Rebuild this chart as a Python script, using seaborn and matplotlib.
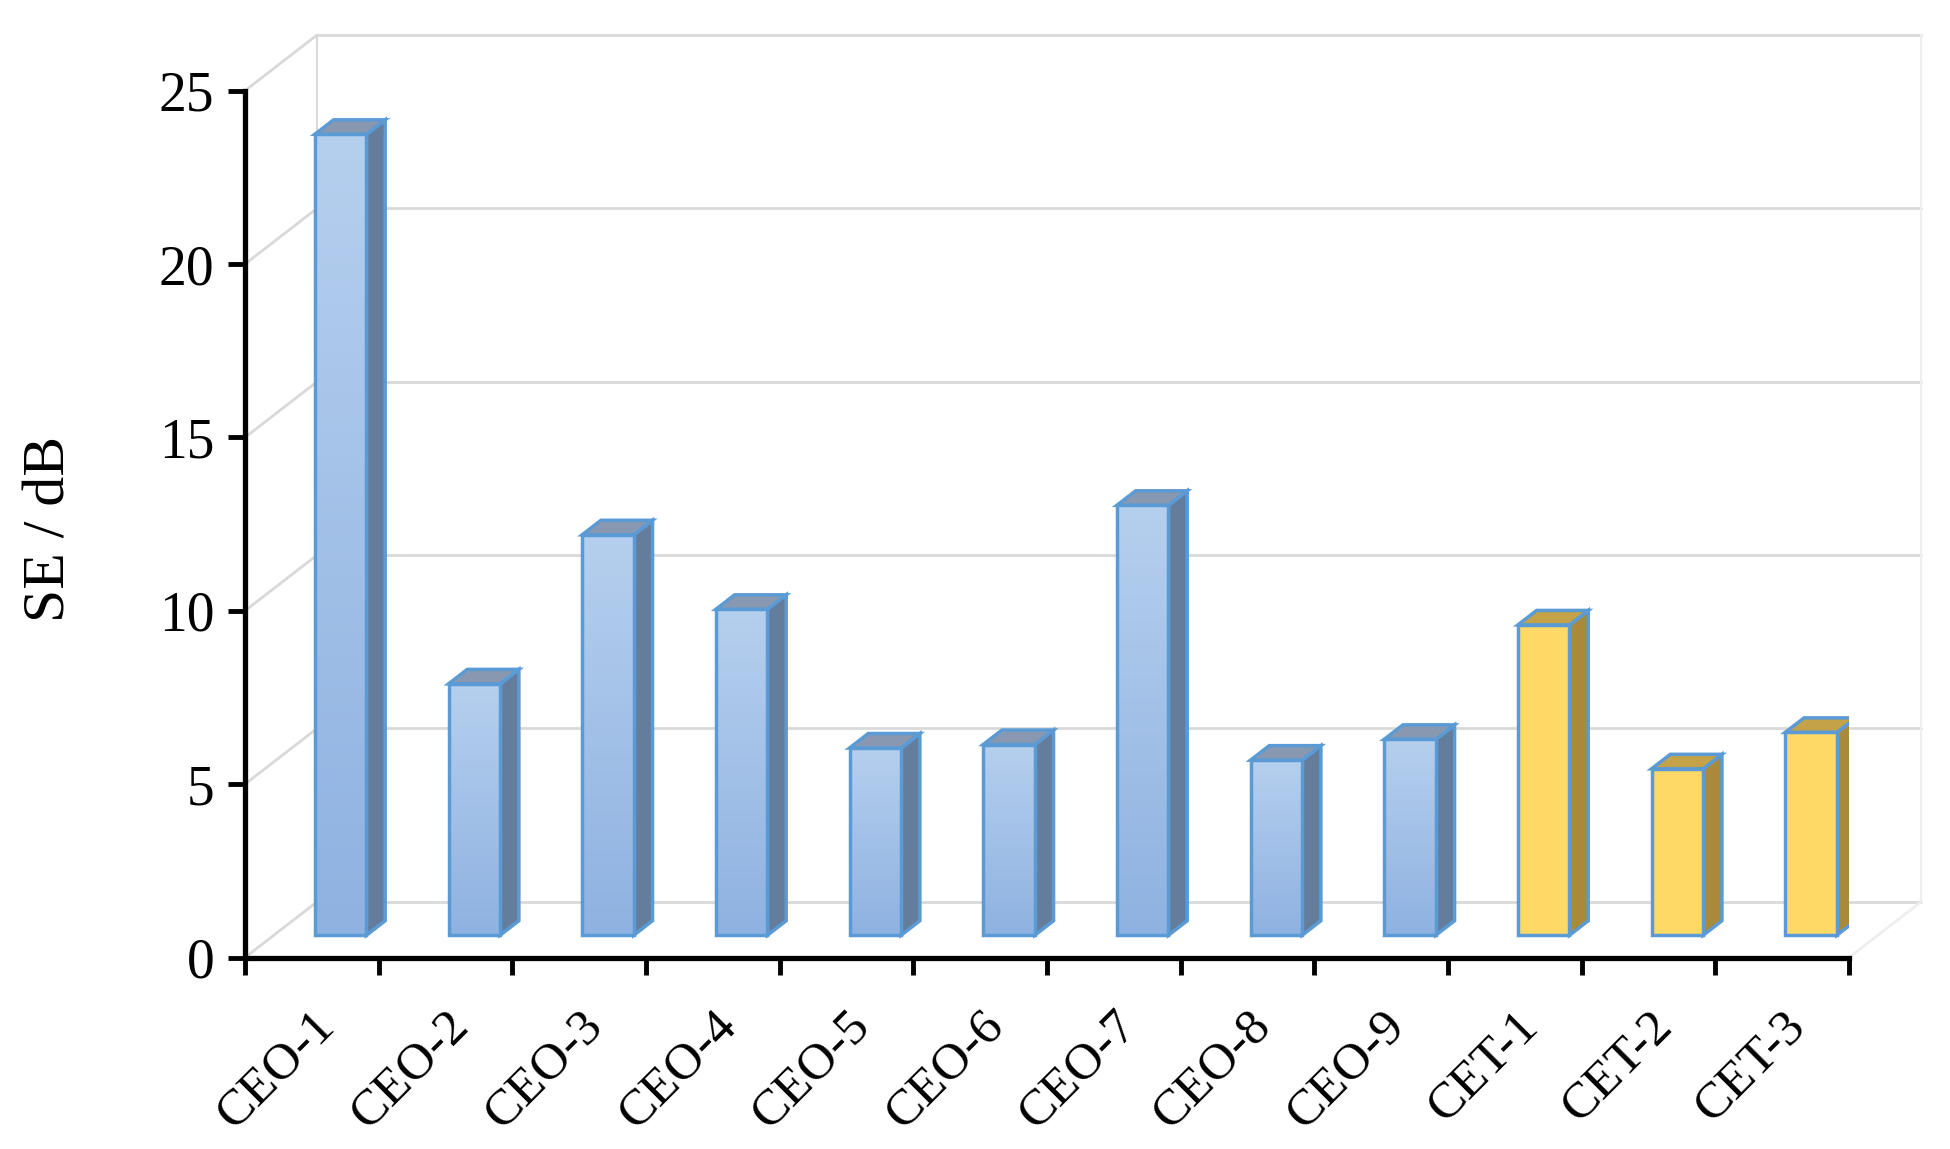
import matplotlib.pyplot as plt
import numpy as np
import pandas as pd
import seaborn as sns
from matplotlib.patches import Polygon
from matplotlib.colors import LinearSegmentedColormap

# data
samples = ["CEO-1", "CEO-2", "CEO-3", "CEO-4", "CEO-5", "CEO-6",
           "CEO-7", "CEO-8", "CEO-9", "CET-1", "CET-2", "CET-3"]
se_db = [23.1, 7.25, 11.55, 9.4, 5.4, 5.5, 12.4, 5.05, 5.65, 8.95, 4.8, 5.85]
groups = ["CEO"] * 9 + ["CET"] * 3

df = pd.DataFrame({"sample": samples, "SE": se_db, "group": groups})

# fake 3d look (Excel style): depth offset of back wall in data units
DX, DY = 0.54, 1.61
F = 0.4    # depth of bar front face
D = 0.26   # bar depth

side_col = {"CEO": "#647d9c", "CET": "#a88a3a"}
top_col = {"CEO": "#8798b0", "CET": "#c4a348"}
edge = "#5b9bd5"
grid_c = "#d9d9d9"

sns.set_style("white")
plt.rcParams["font.family"] = ["Liberation Serif", "DejaVu Serif"]
plt.rcParams["text.color"] = "black"
plt.rcParams["xtick.color"] = "black"
plt.rcParams["ytick.color"] = "black"

fig = plt.figure(figsize=(19.5, 11.49), dpi=100)
ax = fig.add_axes([0.1256, 0.1666, 0.8226, 0.7544])

sns.barplot(data=df, x="sample", y="SE", hue="group",
            palette={"CEO": "#a6c4e9", "CET": "#ffd966"}, dodge=False,
            width=0.386, legend=False, ax=ax, edgecolor=edge,
            linewidth=2.5, saturation=1)

ax.set_xlim(-0.5, 11.5)
ax.set_ylim(0, 25)

# back wall / floor lines
for v in range(0, 26, 5):
    ax.plot([-0.5 + DX, 11.5 + DX], [v + DY, v + DY], color=grid_c, lw=2,
            clip_on=False, zorder=0)
    ax.plot([-0.5, -0.5 + DX], [v, v + DY], color=grid_c, lw=2,
            clip_on=False, zorder=0)
ax.plot([-0.5 + DX, -0.5 + DX], [DY, 25 + DY], color=grid_c, lw=1.5,
        clip_on=False, zorder=0)
ax.plot([11.5 + DX, 11.5 + DX], [DY, 25 + DY], color="#eeeeee", lw=1.5,
        clip_on=False, zorder=0)
ax.plot([11.5, 11.5 + DX], [0, DY], color="#eeeeee", lw=2,
        clip_on=False, zorder=0)

grad = LinearSegmentedColormap.from_list("g", ["#8fb2e1", "#b5cfee"])
bars = [p for p in ax.patches if p.get_height() > 0]
for p in bars:
    i = int(round(p.get_x() + p.get_width() / 2))
    g = groups[i]
    p.set_x(p.get_x() + F * DX)
    p.set_y(F * DY)
    p.set_zorder(3)
    x0, w, h = p.get_x(), p.get_width(), p.get_height()
    x1, y0, y1 = x0 + w, p.get_y(), p.get_y() + h
    side = Polygon([(x1, y0), (x1 + D * DX, y0 + D * DY),
                    (x1 + D * DX, y1 + D * DY), (x1, y1)],
                   facecolor=side_col[g], edgecolor=edge, lw=2.5, zorder=2.9)
    top = Polygon([(x0, y1), (x1, y1), (x1 + D * DX, y1 + D * DY),
                   (x0 + D * DX, y1 + D * DY)],
                  facecolor=top_col[g], edgecolor=edge, lw=2.5, zorder=2.9)
    ax.add_patch(side)
    ax.add_patch(top)
    if g == "CEO":
        im = ax.imshow(np.linspace(0, 1, 100).reshape(-1, 1), cmap=grad,
                       aspect="auto", extent=[x0, x1, y0, y1],
                       origin="lower", zorder=3.05)
        im.set_clip_path(p)
        p.set_facecolor("none")
        p.set_zorder(3.1)

ax.set_xlim(-0.5, 11.5)
ax.set_ylim(0, 25)

sns.despine(ax=ax)
for s in ["left", "bottom"]:
    ax.spines[s].set_linewidth(3.8)
    ax.spines[s].set_color("black")
    ax.spines[s].set_zorder(4)

ax.set_yticks(range(0, 26, 5))
ax.tick_params(axis="y", length=12, width=3.5, labelsize=40, pad=10,
               direction="out", left=True, colors="black")
ax.set_xticks(range(len(samples)))
ax.set_xticklabels(samples, rotation=45, ha="right",
                   rotation_mode="anchor", fontsize=37, color="black")
ax.set_xticks(np.arange(-0.5, 12, 1), minor=True)
ax.tick_params(axis="x", which="major", length=0, pad=32)
ax.tick_params(axis="x", which="minor", length=12, width=3.5,
               direction="out", bottom=True, colors="black")
ax.set_xlabel("")
ax.set_ylabel("")
fig.text(0.026, 0.54, "SE / dB", rotation=90, fontsize=43,
         ha="center", va="center", color="black")

fig.savefig("out.png", dpi=100)
